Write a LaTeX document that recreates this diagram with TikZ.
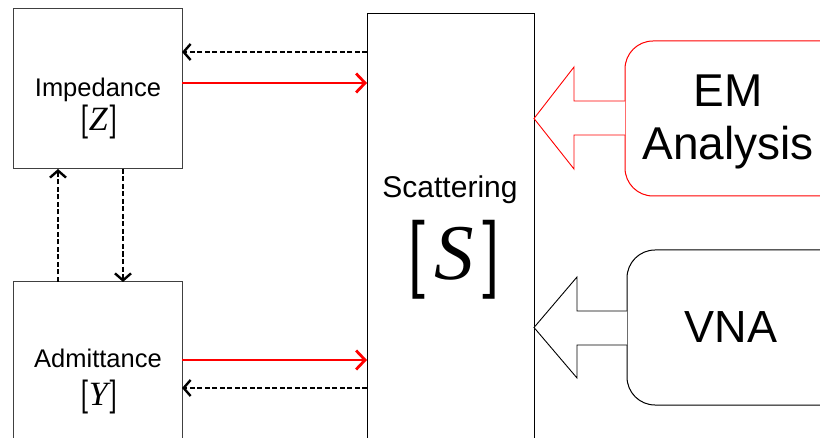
\documentclass[tikz,border=0pt]{standalone}
\usepackage{graphicx}
\usepackage[no-math]{fontspec}
\setmainfont{Liberation Sans}
\newfontfamily\serifmath{Liberation Serif}
\newfontfamily\brfont{lmromandemi10-regular.otf}
\newcommand{\mletter}[1]{{\serifmath\itshape #1}}
\newcommand{\mbr}[1]{{\brfont #1}}
\usetikzlibrary{arrows.meta,calc}
\definecolor{pred}{RGB}{255,0,0}
\tikzset{
  box/.style={draw=black!75, line width=1bp, fill=none, inner sep=0pt, outer sep=0pt},
  rbox/.style={box, rounded corners=28bp},
  lbl/.style={anchor=base, inner sep=0pt, outer sep=0pt},
  redarrow/.style={draw=pred, line width=2.8bp, -{Straight Barb[length=9bp, width=19bp, line width=2.8bp]}},
  dasharrow/.style={draw=black, line width=2.6bp, dash pattern=on 5bp off 2.5bp, -{Straight Barb[length=7bp, width=16bp, line width=2.4bp, sep=0pt]}},
  fat/.style={line width=0.9bp, fill=white, line join=miter},
}
\begin{document}
\begin{tikzpicture}[x=1bp, y=-1bp]
\clip (0,0) rectangle (820,438);
\fill[white] (0,0) rectangle (820,438);

% boxes
\node[box, minimum width=168bp, minimum height=160bp] (Z) at (98,89) {};
\node[box, minimum width=168bp, minimum height=188bp] (Y) at (98,376) {};
\node[box, draw=black, minimum width=167bp, minimum height=456bp] (S) at (450.5,242) {};
\node[rbox, draw=pred, minimum width=245bp, minimum height=155bp] (EM) at (747.5,118.5) {};
\node[rbox, draw=black, minimum width=243bp, minimum height=155bp] (VNA) at (748.5,327.5) {};

% texts
\node[lbl, font=\fontsize{25.5bp}{30bp}\selectfont] (tZ) at (98,97) {Impedance};
\node[lbl, font=\fontsize{34bp}{38bp}\selectfont] (mZ) at (99,131) {\mbr{[}\mletter{Z}\hspace{0.04em}\mbr{]}};
\node[lbl, font=\fontsize{25.5bp}{30bp}\selectfont] (tY) at (98,368) {Admittance};
\node[lbl, font=\fontsize{34bp}{38bp}\selectfont] (mY) at (99,405) {\mbr{[}\mletter{Y}\hspace{0.04em}\mbr{]}};
\node[lbl, font=\fontsize{30bp}{34bp}\selectfont] (tS) at (450,198) {Scattering};
\node[lbl, font=\fontsize{79bp}{86bp}\selectfont] (mS) at (454,280) {\mbr{[}\hspace{0.1em}\mletter{S}\hspace{0.1em}\mbr{]}};
\node[lbl, font=\fontsize{46bp}{53bp}\selectfont] (tEM) at (728,107) {EM};
\node[lbl, font=\fontsize{46bp}{53bp}\selectfont] (tAn) at (728,160) {Analysis};
\node[lbl, font=\fontsize{45bp}{52bp}\selectfont] (tV) at (731,343) {VNA};

% connectors
\draw[dasharrow] (S.west |- 0,52) -- (Z.east |- 0,52);
\draw[redarrow] (Z.east |- 0,83) -- (S.west |- 0,83);
\draw[redarrow] (Y.east |- 0,360) -- (S.west |- 0,360);
\draw[dasharrow] (S.west |- 0,388) -- (Y.east |- 0,388);
\draw[dasharrow] (Y.north -| 58,0) -- (Z.south -| 58,0);
\draw[dasharrow] (Z.south -| 123,0) -- (Y.north -| 123,0);

% block arrows
\draw[fat, draw=pred] (EM.west |- 0,101) -- (574,101) -- (574,67) -- (S.east |- EM.west) -- (574,169) -- (574,135) -- (EM.west |- 0,135);
\draw[fat, draw=black] (VNA.west |- 0,311) -- (577,311) -- (577,277) -- (S.east |- VNA.west) -- (577,378) -- (577,345) -- (VNA.west |- 0,345);
\end{tikzpicture}
\end{document}
